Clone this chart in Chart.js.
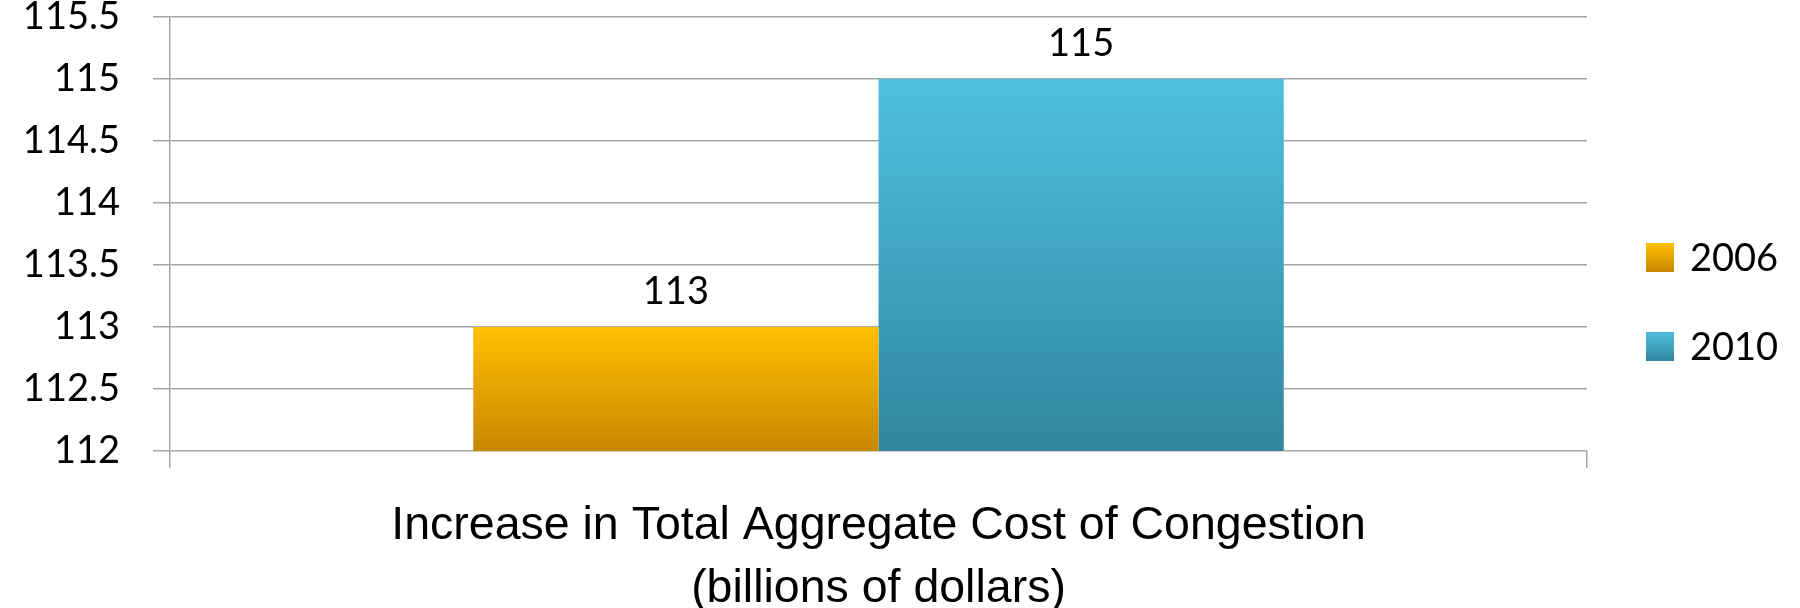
<!DOCTYPE html>
<html>
<head>
<meta charset="utf-8">
<script src="https://cdn.jsdelivr.net/npm/chart.js@4.4.1/dist/chart.umd.min.js"></script>
<style>
  html, body { margin: 0; padding: 0; background: #fff; }
  #wrap { width: 1800px; height: 608px; }
</style>
</head>
<body>
<div id="wrap"><canvas id="costChart" width="1800" height="608"></canvas></div>
<script>
// categoria unica (el nombre va en dos lineas)
const categorias = [['Increase in Total Aggregate Cost of Congestion', '(billions of dollars)']];
const anios = ['2006', '2010'];
const valores2006 = [113];
const valores2010 = [115];
const ticksY = [112, 112.5, 113, 113.5, 114, 114.5, 115, 115.5];

// colores arriba / abajo de cada serie
const coloresArriba = ['#ffc000', '#4cc1df'];
const coloresAbajo = ['#c98600', '#32869e'];

const fuenteNum = "Lato, 'Open Sans', sans-serif";
const fuenteTexto = "'Liberation Sans', Arial, sans-serif";
const gris = '#a6a6a6';

function degradado(ctx, i) {
    const chart = ctx.chart;
    if (!chart.chartArea) return coloresArriba[i];
    const valor = ctx.raw;
    const top = chart.scales.y.getPixelForValue(valor);
    const bottom = chart.chartArea.bottom;
    const g = chart.ctx.createLinearGradient(0, top, 0, bottom);
    g.addColorStop(0, coloresArriba[i]);
    g.addColorStop(1, coloresAbajo[i]);
    return g;
}

// etiquetas con el valor encima de cada barra
const etiquetasBarras = {
    id: 'etiquetasBarras',
    afterDatasetsDraw(chart) {
        const ctx = chart.ctx;
        ctx.save();
        ctx.font = '38px ' + fuenteNum;
        ctx.fillStyle = '#000';
        ctx.textAlign = 'center';
        ctx.textBaseline = 'middle';
        chart.data.datasets.forEach((ds, i) => {
            const meta = chart.getDatasetMeta(i);
            meta.data.forEach((bar, j) => {
                ctx.fillText(ds.data[j], bar.x, bar.y - 35);
            });
        });
        ctx.restore();
    }
};

// leyenda a la derecha
const leyenda = {
    id: 'leyenda',
    afterDraw(chart) {
        const ctx = chart.ctx;
        const x = chart.chartArea.right + 59;
        let y = 243;
        ctx.save();
        chart.data.datasets.forEach((ds, i) => {
            const g = ctx.createLinearGradient(0, y, 0, y + 29);
            g.addColorStop(0, coloresArriba[i]);
            g.addColorStop(1, coloresAbajo[i]);
            ctx.fillStyle = g;
            ctx.fillRect(x, y, 28, 29);
            ctx.fillStyle = '#000';
            ctx.font = '38px ' + fuenteNum;
            ctx.textAlign = 'left';
            ctx.textBaseline = 'middle';
            ctx.fillText(ds.label, x + 44, y + 16);
            y += 89;
        });
        ctx.restore();
    }
};

const ctx = document.getElementById('costChart').getContext('2d');
new Chart(ctx, {
    type: 'bar',
    data: {
        labels: categorias,
        datasets: [
            { label: anios[0], data: valores2006, backgroundColor: c => degradado(c, 0) },
            { label: anios[1], data: valores2010, backgroundColor: c => degradado(c, 1) }
        ]
    },
    options: {
        responsive: false,
        animation: false,
        layout: { padding: { top: 17, right: 213, left: 0, bottom: 0 } },
        datasets: {
            bar: { categoryPercentage: 0.572, barPercentage: 1, borderWidth: 0 }
        },
        plugins: {
            legend: { display: false },
            tooltip: { enabled: false }
        },
        scales: {
            x: {
                grid: {
                    display: true,
                    drawOnChartArea: false,
                    drawTicks: true,
                    tickLength: 17,
                    color: gris,
                    lineWidth: 1.5
                },
                border: { display: false },
                ticks: {
                    color: '#000',
                    maxRotation: 0,
                    padding: 27,
                    font: { family: fuenteTexto, size: 46.5, lineHeight: 1.355 }
                },
                afterFit(scale) { scale.height = 157; }
            },
            y: {
                min: ticksY[0],
                max: ticksY[ticksY.length - 1],
                afterBuildTicks(scale) {
                    scale.ticks = ticksY.map(v => ({ value: v }));
                },
                grid: {
                    color: gris,
                    lineWidth: 1.5,
                    tickLength: 17
                },
                border: { display: true, color: gris, width: 1.5 },
                ticks: {
                    color: '#000',
                    padding: 33,
                    font: { family: fuenteNum, size: 38 },
                    callback: v => String(v)
                },
                afterFit(scale) {
                    scale.width = 170;
                    // el padding de los ticks no debe bajar el area del grafico
                    scale.paddingTop = 0;
                }
            }
        }
    },
    plugins: [etiquetasBarras, leyenda]
});
</script>
</body>
</html>
